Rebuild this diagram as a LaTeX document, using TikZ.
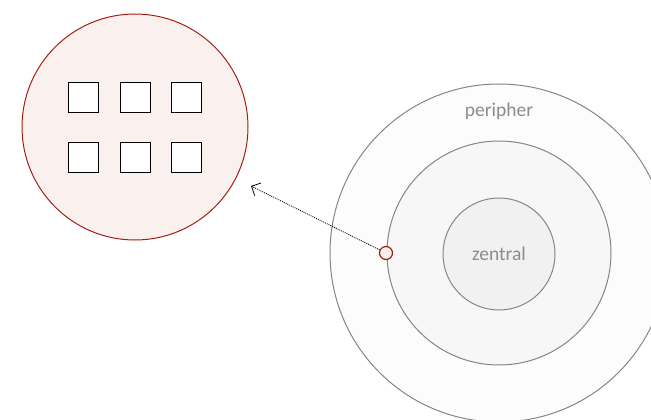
\documentclass[tikz,border=0pt]{standalone}
\usepackage{fontspec}
\setsansfont{Carlito}
\usetikzlibrary{arrows.meta}
\definecolor{ringline}{HTML}{858585}
\definecolor{ringtext}{HTML}{8C8C8C}
\definecolor{ringa}{HTML}{FCFCFC}
\definecolor{ringb}{HTML}{F7F7F7}
\definecolor{ringc}{HTML}{F1F1F1}
\definecolor{clusterline}{HTML}{A31F14}
\definecolor{clusterfill}{HTML}{FAF1EE}

\begin{document}
\begin{tikzpicture}[
    x=1pt, y=-1pt,
    ring/.style={circle, draw=ringline, line width=1pt, inner sep=0pt},
    zelle/.style={rectangle, draw=black, fill=white, minimum size=30pt, inner sep=0pt, line width=0.8pt},
    beschriftung/.style={text=ringtext, font=\sffamily\fontsize{19.5}{22}\selectfont},
    arrow/.style={-{Straight Barb[length=7pt,width=14pt]}, dash pattern=on 1pt off 1pt, line width=0.8pt}
]
\useasboundingbox (0,0) rectangle (651,420);

% Cluster (links)
\node[circle, draw=clusterline, fill=clusterfill, line width=1pt, minimum size=226pt, inner sep=0pt] (cluster) at (135,127) {};
\foreach \i in {0,1,2}
  \foreach \j in {0,1}
    \node[zelle] (z\i\j) at (83.5+51.5*\i, 97+60*\j) {};

% Ringe (rechts)
\node[ring, fill=ringa, minimum size=338pt] (peripher) at (499,253) {};
\node[ring, fill=ringb, minimum size=224pt] (mitte) at (499,253) {};
\node[ring, fill=ringc, minimum size=112pt, beschriftung] (zentral) at (499,254) {zentral};
\node[beschriftung] (perilabel) at (499,111) {peripher};

% Port und Pfeil
\node[circle, draw=clusterline, fill=clusterfill, line width=1.2pt, minimum size=13pt, inner sep=0pt] (port) at (386,253) {};
\coordinate (ziel) at (251,186);
\draw[arrow] (port) -- (ziel);

\end{tikzpicture}
\end{document}
